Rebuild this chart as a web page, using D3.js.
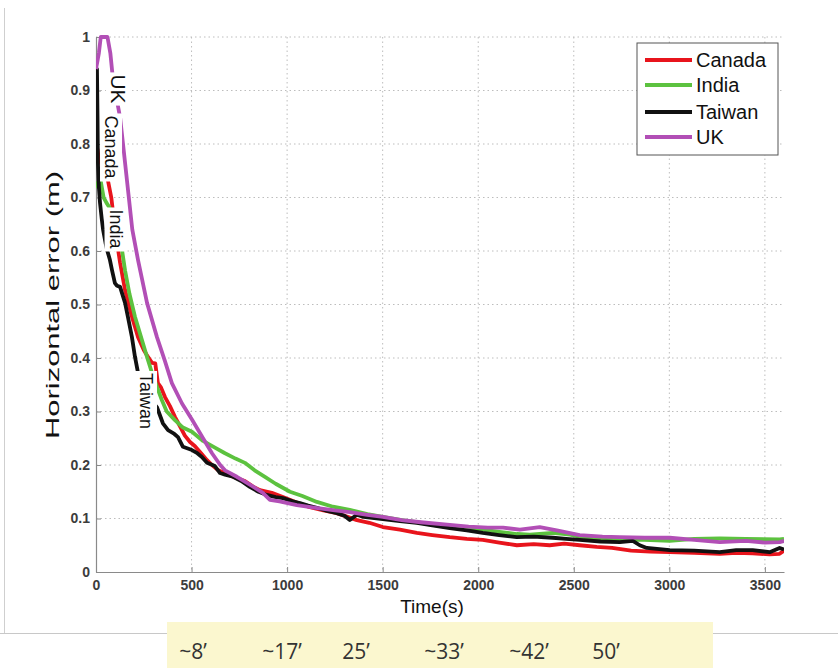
<!DOCTYPE html>
<html><head><meta charset="utf-8">
<script src="https://cdn.jsdelivr.net/npm/d3@7"></script>
<style>body{margin:0;background:#fff}svg{display:block}</style>
</head><body><svg id="c" width="838" height="668"></svg>
<script>
const seriesNames = ["Canada","India","Taiwan","UK"];
const seriesColors = ["#e8141c","#5cc23f","#111111","#b24fb6"];

const canadaT = [0,8,15,25,40,58,80,100,126,152,188,220,250,272,293,310,324,340,361,387,413,440,465,492,518,550,581,607,640,675,717,779,820,858,920,978,1050,1119,1190,1260,1365,1430,1501,1590,1679,1760,1851,1940,2024,2110,2202,2290,2374,2450,2531,2620,2700,2800,2900,3002,3130,3264,3350,3436,3525,3577,3600];
const canadaV = [0.78,0.79,0.77,0.765,0.75,0.74,0.70,0.64,0.578,0.527,0.477,0.439,0.415,0.402,0.391,0.39,0.353,0.345,0.327,0.31,0.29,0.272,0.255,0.243,0.235,0.222,0.209,0.2,0.19,0.185,0.178,0.170,0.160,0.153,0.148,0.140,0.13,0.121,0.115,0.110,0.097,0.092,0.084,0.079,0.073,0.069,0.065,0.062,0.060,0.055,0.050,0.052,0.050,0.053,0.050,0.047,0.045,0.040,0.038,0.037,0.036,0.034,0.036,0.035,0.033,0.034,0.040];

const indiaT = [0,10,25,40,55,73,90,110,136,152,175,204,235,267,293,320,345,370,413,455,502,560,620,675,730,779,830,884,940,1015,1080,1156,1240,1328,1420,1501,1600,1679,1760,1851,1940,2024,2110,2202,2270,2390,2480,2531,2650,2741,2870,3002,3130,3264,3400,3577,3600];
const indiaV = [0.73,0.72,0.73,0.70,0.69,0.68,0.66,0.63,0.602,0.564,0.52,0.477,0.44,0.402,0.372,0.345,0.321,0.30,0.284,0.27,0.262,0.245,0.233,0.222,0.212,0.204,0.19,0.178,0.165,0.150,0.142,0.131,0.122,0.116,0.108,0.103,0.097,0.093,0.088,0.084,0.081,0.079,0.075,0.071,0.070,0.073,0.070,0.066,0.062,0.060,0.060,0.058,0.062,0.063,0.062,0.061,0.062];

const taiwanT = [0,5,8,10,15,21,30,37,50,58,73,84,99,110,126,152,167,188,204,220,250,290,319,350,377,410,429,455,502,530,554,581,622,649,675,717,760,805,850,894,940,978,1030,1067,1110,1156,1210,1260,1300,1328,1365,1400,1501,1590,1679,1760,1851,1940,2024,2110,2202,2290,2390,2460,2531,2640,2741,2809,2845,2882,3002,3130,3264,3350,3436,3525,3577,3600];
const taiwanV = [0.93,0.94,0.85,0.765,0.72,0.69,0.66,0.64,0.615,0.602,0.583,0.564,0.540,0.535,0.533,0.503,0.477,0.439,0.402,0.372,0.345,0.32,0.308,0.278,0.265,0.258,0.252,0.234,0.228,0.222,0.215,0.204,0.198,0.185,0.182,0.178,0.170,0.159,0.150,0.144,0.140,0.138,0.132,0.129,0.124,0.120,0.114,0.110,0.105,0.097,0.107,0.103,0.099,0.095,0.092,0.087,0.082,0.078,0.073,0.069,0.065,0.066,0.064,0.062,0.060,0.057,0.056,0.058,0.050,0.045,0.041,0.040,0.037,0.041,0.041,0.037,0.045,0.042];

const ukT = [0,15,25,60,75,89,110,126,152,190,220,267,319,360,397,450,502,560,607,650,675,737,764,820,873,910,960,1051,1150,1250,1328,1420,1501,1600,1700,1851,1950,2050,2130,2218,2322,2411,2531,2650,2741,2870,3002,3130,3264,3400,3500,3577,3600];
const ukV = [0.94,0.97,1.0,1.0,0.97,0.92,0.88,0.85,0.765,0.64,0.583,0.503,0.439,0.395,0.353,0.315,0.285,0.25,0.222,0.20,0.19,0.178,0.172,0.160,0.148,0.135,0.132,0.125,0.12,0.115,0.112,0.107,0.103,0.097,0.093,0.088,0.085,0.083,0.083,0.079,0.084,0.078,0.069,0.066,0.065,0.064,0.064,0.060,0.056,0.058,0.055,0.056,0.058];

const xTicks = [0,500,1000,1500,2000,2500,3000,3500];
const yTicks = [0,0.1,0.2,0.3,0.4,0.5,0.6,0.7,0.8,0.9,1];
const yTickLabels = ["0","0.1","0.2","0.3","0.4","0.5","0.6","0.7","0.8","0.9","1"];
const minuteLabels = ["~8\u2019","~17\u2019","25\u2019","~33\u2019","~42\u2019","50\u2019"];
const inlineLabels = ["UK","Canada","India","Taiwan"];

const svg = d3.select("#c");
const x = d3.scaleLinear().domain([0,3600]).range([96,784]);
const y = d3.scaleLinear().domain([0,1]).range([572,37]);
const font = "'Liberation Sans', Arial, sans-serif";

// page frame lines
svg.append("line").attr("x1",4.5).attr("x2",4.5).attr("y1",8).attr("y2",633).attr("stroke","#cfcfcf");
svg.append("line").attr("x1",0).attr("x2",838).attr("y1",633.5).attr("y2",633.5).attr("stroke","#c8c8c8");

// grid
const grid = svg.append("g").attr("stroke","#bdbdbd").attr("stroke-dasharray","1.5,3").attr("stroke-width",1);
xTicks.slice(1).forEach(t=>grid.append("line").attr("x1",x(t)).attr("x2",x(t)).attr("y1",y(1)).attr("y2",y(0)));
yTicks.slice(1).forEach(t=>grid.append("line").attr("x1",x(0)).attr("x2",x(3600)).attr("y1",y(t)).attr("y2",y(t)));

// axes
const xAxis = d3.axisBottom(x).tickValues(xTicks).tickSizeInner(-5).tickSizeOuter(0).tickPadding(8).tickFormat(d=>String(d));
const gx = svg.append("g").attr("transform",`translate(0,${y(0)})`).call(xAxis);
const yAxis = d3.axisLeft(y).tickValues(yTicks).tickSizeInner(-5).tickSizeOuter(0).tickPadding(6).tickFormat((d,i)=>yTickLabels[i]);
const gy = svg.append("g").attr("transform",`translate(${x(0)},0)`).call(yAxis);
[gx,gy].forEach(g=>{
  g.select(".domain").attr("stroke","#8a8a8a").attr("stroke-width",1.2);
  g.selectAll(".tick line").attr("stroke","#8a8a8a");
  g.selectAll(".tick text").attr("font-family",font).attr("font-size",14).attr("font-weight","bold").attr("fill","#3c3c3c");
});

// curves
svg.append("clipPath").attr("id","pc").append("rect").attr("x",x(0)).attr("y",y(1)-2).attr("width",x(3600)-x(0)).attr("height",y(0)-y(1)+2);
const line = d3.line().x(d=>x(d[0])).y(d=>y(Math.min(d[1],1)));
const data = [d3.zip(canadaT,canadaV), d3.zip(indiaT,indiaV), d3.zip(taiwanT,taiwanV), d3.zip(ukT,ukV)];
const cg = svg.append("g").attr("clip-path","url(#pc)");
data.forEach((d,i)=>cg.append("path").attr("d",line(d)).attr("fill","none").attr("stroke",seriesColors[i]).attr("stroke-width",3.8).attr("stroke-linejoin","round"));

// inline rotated labels with white backgrounds
const inlinePos = [[118.5,89,21],[111.5,147,18],[116,229,18],[146.5,401,18]];
inlineLabels.forEach((lab,i)=>{
  const [cx,cy,fs] = inlinePos[i];
  const g = svg.append("g").attr("transform",`translate(${cx},${cy}) rotate(90)`);
  const r = g.append("rect").attr("fill","#fff");
  const t = g.append("text").text(lab).attr("text-anchor","middle").attr("dy","0.36em")
    .attr("font-family",font).attr("font-size",fs).attr("fill","#111");
  const b = t.node().getBBox();
  r.attr("x",b.x-2).attr("y",b.y-1).attr("width",b.width+4).attr("height",b.height+2);
});

// axis titles
svg.append("text").attr("x",432).attr("y",613).attr("text-anchor","middle").attr("font-family",font).attr("font-size",19).attr("fill","#111").text("Time(s)");
svg.append("text").attr("transform","translate(59,305) rotate(-90)").attr("text-anchor","middle").attr("font-family",font).attr("font-size",19)
  .attr("textLength",268).attr("lengthAdjust","spacingAndGlyphs").attr("fill","#111").text("Horizontal error (m)");

// legend
const lg = svg.append("g");
lg.append("rect").attr("x",637).attr("y",43).attr("width",141).attr("height",112).attr("fill","#fff").attr("stroke","#555").attr("stroke-width",1);
const legY = [60,85,112,137];
seriesNames.forEach((n,i)=>{
  lg.append("line").attr("x1",645).attr("x2",692).attr("y1",legY[i]).attr("y2",legY[i]).attr("stroke",seriesColors[i]).attr("stroke-width",4);
  lg.append("text").attr("x",696).attr("y",legY[i]).attr("dy","0.36em").attr("font-family",font).attr("font-size",20).attr("fill","#111").text(n);
});

// minutes strip
svg.append("rect").attr("x",167).attr("y",622).attr("width",546).attr("height",50).attr("fill","#fbf7cf");
const minuteX = [193,282,356,444,529,606];
minuteLabels.forEach((m,i)=>svg.append("text").attr("x",minuteX[i]).attr("y",659).attr("text-anchor","middle")
  .attr("font-family","'Open Sans', 'Liberation Sans', sans-serif").attr("font-size",21).attr("fill","#333").text(m));
</script></body></html>
